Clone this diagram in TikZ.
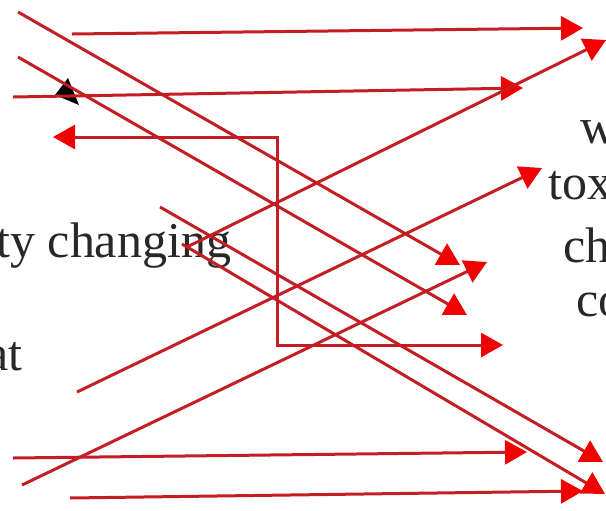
\documentclass[tikz,border=0pt]{standalone}
\usepackage{fontspec}
\setmainfont{Liberation Serif}
\usetikzlibrary{arrows.meta}
\definecolor{linkred}{RGB}{195,30,35}
\definecolor{tipred}{RGB}{240,0,0}
\definecolor{inkgray}{RGB}{40,40,40}

\begin{document}
\begin{tikzpicture}[x=0.5pt,y=-0.5pt,
        >={Triangle[length=11pt,width=12pt,color=tipred]},
        link/.style={draw=linkred,line width=1.5pt},
        lbl/.style={font=\fontsize{25}{30}\selectfont,text=inkgray,inner sep=0pt}]
  \useasboundingbox (0,0) rectangle (606,510);
  \clip (0,0) rectangle (606,510);
  \fill[white] (0,0) rectangle (606,510);

  % texts cut by the frame
  \node[lbl,anchor=base west] (tyc) at (-4,257) {ty changing};
  \node[lbl,anchor=base east] (at) at (23,370) {at};
  \node[lbl,anchor=base west] (w)   at (580,143) {w};
  \node[lbl,anchor=base west] (tox) at (548,199) {tox};
  \node[lbl,anchor=base west] (ch)  at (563,262) {ch};
  \node[lbl,anchor=base west] (co)  at (576,316) {co};

  % end points
  \coordinate (a0) at (18,12);   \coordinate (a1) at (460,265);
  \coordinate (b0) at (18,57);   \coordinate (b1) at (467,315);
  \coordinate (c0) at (160,207); \coordinate (c1) at (603,462);
  \coordinate (d0) at (182,244); \coordinate (d1) at (605,494);
  \coordinate (e0) at (77,392);  \coordinate (e1) at (542,168);
  \coordinate (f0) at (22,485);  \coordinate (f1) at (487,262);
  \coordinate (g0) at (187,247); \coordinate (g1) at (606,40);
  \coordinate (h0) at (72,34);   \coordinate (h1) at (583,28);
  \coordinate (i0) at (13,97);   \coordinate (i1) at (523,88);
  \coordinate (j0) at (13,458);  \coordinate (j1) at (527,452);
  \coordinate (k0) at (70,498);  \coordinate (k1) at (583,491);
  \coordinate (m0) at (53,137);  \coordinate (m1) at (503,345);
  \coordinate (mc) at (277,137);

  % stray black head on the second diagonal
  \fill[black] (68,78) -- (79,105) -- (55,95) -- cycle;

  % horizontal arrows
  \draw[link,->] (h0) -- (h1);
  \draw[link,->] (i0) -- (i1);
  \draw[link,->] (j0) -- (j1);
  \draw[link,->] (k0) -- (k1);
  \draw[link,<->] (m0) -- (mc) |- (m1);

  % crossing arrows
  \draw[link,->] (a0) -- (a1);
  \draw[link,->] (b0) -- (b1);
  \draw[link,->] (c0) -- (c1);
  \draw[link,->] (d0) -- (d1);
  \draw[link,->] (e0) -- (e1);
  \draw[link,->] (f0) -- (f1);
  \draw[link,->] (g0) -- (g1);
\end{tikzpicture}
\end{document}
